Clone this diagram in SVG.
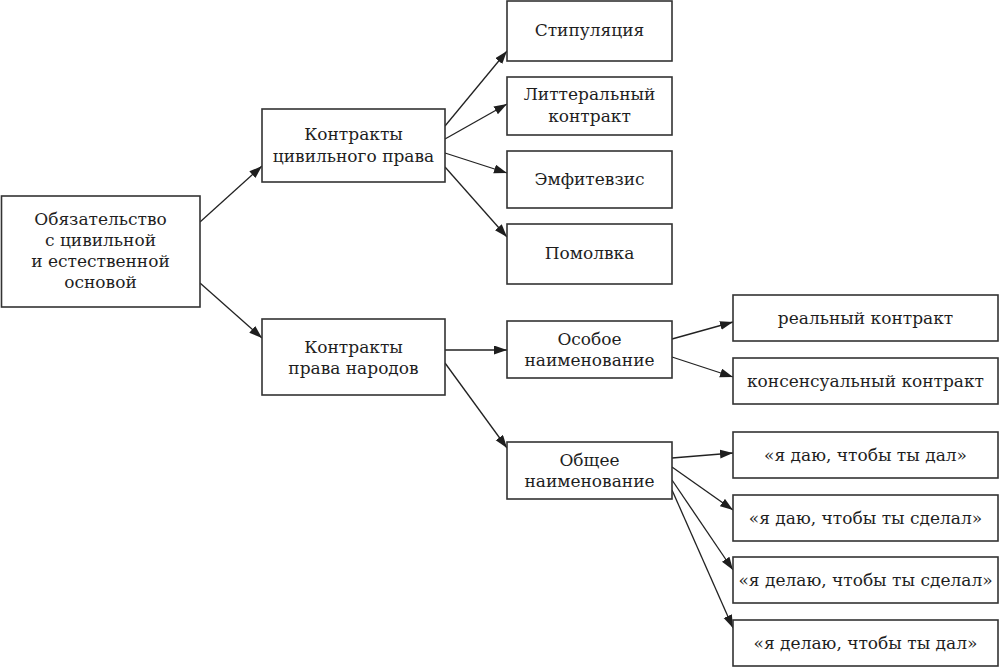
<svg xmlns="http://www.w3.org/2000/svg" width="1000" height="667" viewBox="0 0 1000 667">
  <style>
    .box { fill: #ffffff; stroke: #333333; stroke-width: 1.6; }
    .t { font-family: "DejaVu Serif", "Liberation Serif", serif; font-size: 17px; fill: #1e1e1e; text-anchor: middle; }
    .c { stroke: #222222; stroke-width: 1.3; fill: none; marker-end: url(#ah); }
  </style>
  <defs>
    <marker id="ah" markerUnits="userSpaceOnUse" markerWidth="14" markerHeight="10" refX="13" refY="4.5" orient="auto">
      <path d="M0,0 L13,4.5 L0,9 Z" fill="#1e1e1e"/>
    </marker>
  </defs>
  <rect width="1000" height="667" fill="#ffffff"/>

  <g id="connectors">
    <line class="c" x1="200" y1="222" x2="262" y2="166"/>
    <line class="c" x1="200" y1="283" x2="262" y2="338"/>
    <line class="c" x1="445" y1="126" x2="507" y2="51"/>
    <line class="c" x1="445" y1="139" x2="507" y2="104"/>
    <line class="c" x1="445" y1="153" x2="507" y2="173"/>
    <line class="c" x1="445" y1="167" x2="507" y2="237"/>
    <line class="c" x1="445" y1="350" x2="507" y2="350"/>
    <line class="c" x1="445" y1="363" x2="507" y2="448"/>
    <line class="c" x1="672" y1="339" x2="733" y2="322"/>
    <line class="c" x1="672" y1="357" x2="733" y2="377"/>
    <line class="c" x1="672" y1="458" x2="733" y2="453"/>
    <line class="c" x1="672" y1="467" x2="733" y2="510"/>
    <line class="c" x1="672" y1="480" x2="733" y2="570"/>
    <line class="c" x1="672" y1="490" x2="733" y2="628"/>
  </g>

  <g id="root">
    <rect class="box" x="1.5" y="196" width="198.5" height="111"/>
    <text class="t" x="100.5" y="225">Обязательство</text>
    <text class="t" x="100.5" y="246">с цивильной</text>
    <text class="t" x="100.5" y="267">и естественной</text>
    <text class="t" x="100.5" y="288">основой</text>
  </g>

  <g id="civil">
    <rect class="box" x="262" y="109" width="183" height="73"/>
    <text class="t" x="353.5" y="140">Контракты</text>
    <text class="t" x="353.5" y="162">цивильного права</text>
  </g>

  <g id="gentium">
    <rect class="box" x="262" y="319" width="183" height="76"/>
    <text class="t" x="353.5" y="353">Контракты</text>
    <text class="t" x="353.5" y="374">права народов</text>
  </g>

  <g id="stipulatio">
    <rect class="box" x="507" y="1" width="165" height="60"/>
    <text class="t" x="589.5" y="36">Стипуляция</text>
  </g>

  <g id="litteral">
    <rect class="box" x="507" y="77" width="165" height="58"/>
    <text class="t" x="589.5" y="100">Литтеральный</text>
    <text class="t" x="589.5" y="122">контракт</text>
  </g>

  <g id="emphyteusis">
    <rect class="box" x="507" y="151" width="165" height="57"/>
    <text class="t" x="589.5" y="185">Эмфитевзис</text>
  </g>

  <g id="sponsalia">
    <rect class="box" x="507" y="224" width="165" height="60"/>
    <text class="t" x="589.5" y="259">Помолвка</text>
  </g>

  <g id="special">
    <rect class="box" x="507" y="321" width="165" height="57"/>
    <text class="t" x="589.5" y="345">Особое</text>
    <text class="t" x="589.5" y="366">наименование</text>
  </g>

  <g id="general">
    <rect class="box" x="507" y="442" width="165" height="57"/>
    <text class="t" x="589.5" y="466">Общее</text>
    <text class="t" x="589.5" y="487">наименование</text>
  </g>

  <g id="real">
    <rect class="box" x="733" y="295" width="265" height="46"/>
    <text class="t" x="865.5" y="324">реальный контракт</text>
  </g>

  <g id="consensual">
    <rect class="box" x="733" y="358" width="265" height="46"/>
    <text class="t" x="865.5" y="387">консенсуальный контракт</text>
  </g>

  <g id="do-ut-des">
    <rect class="box" x="733" y="432" width="265" height="46"/>
    <text class="t" x="865.5" y="461">«я даю, чтобы ты дал»</text>
  </g>

  <g id="do-ut-facias">
    <rect class="box" x="733" y="495" width="265" height="46"/>
    <text class="t" x="865.5" y="524">«я даю, чтобы ты сделал»</text>
  </g>

  <g id="facio-ut-facias">
    <rect class="box" x="733" y="557" width="265" height="46"/>
    <text class="t" x="865.5" y="586">«я делаю, чтобы ты сделал»</text>
  </g>

  <g id="facio-ut-des">
    <rect class="box" x="733" y="620" width="265" height="46"/>
    <text class="t" x="865.5" y="649">«я делаю, чтобы ты дал»</text>
  </g>
</svg>
